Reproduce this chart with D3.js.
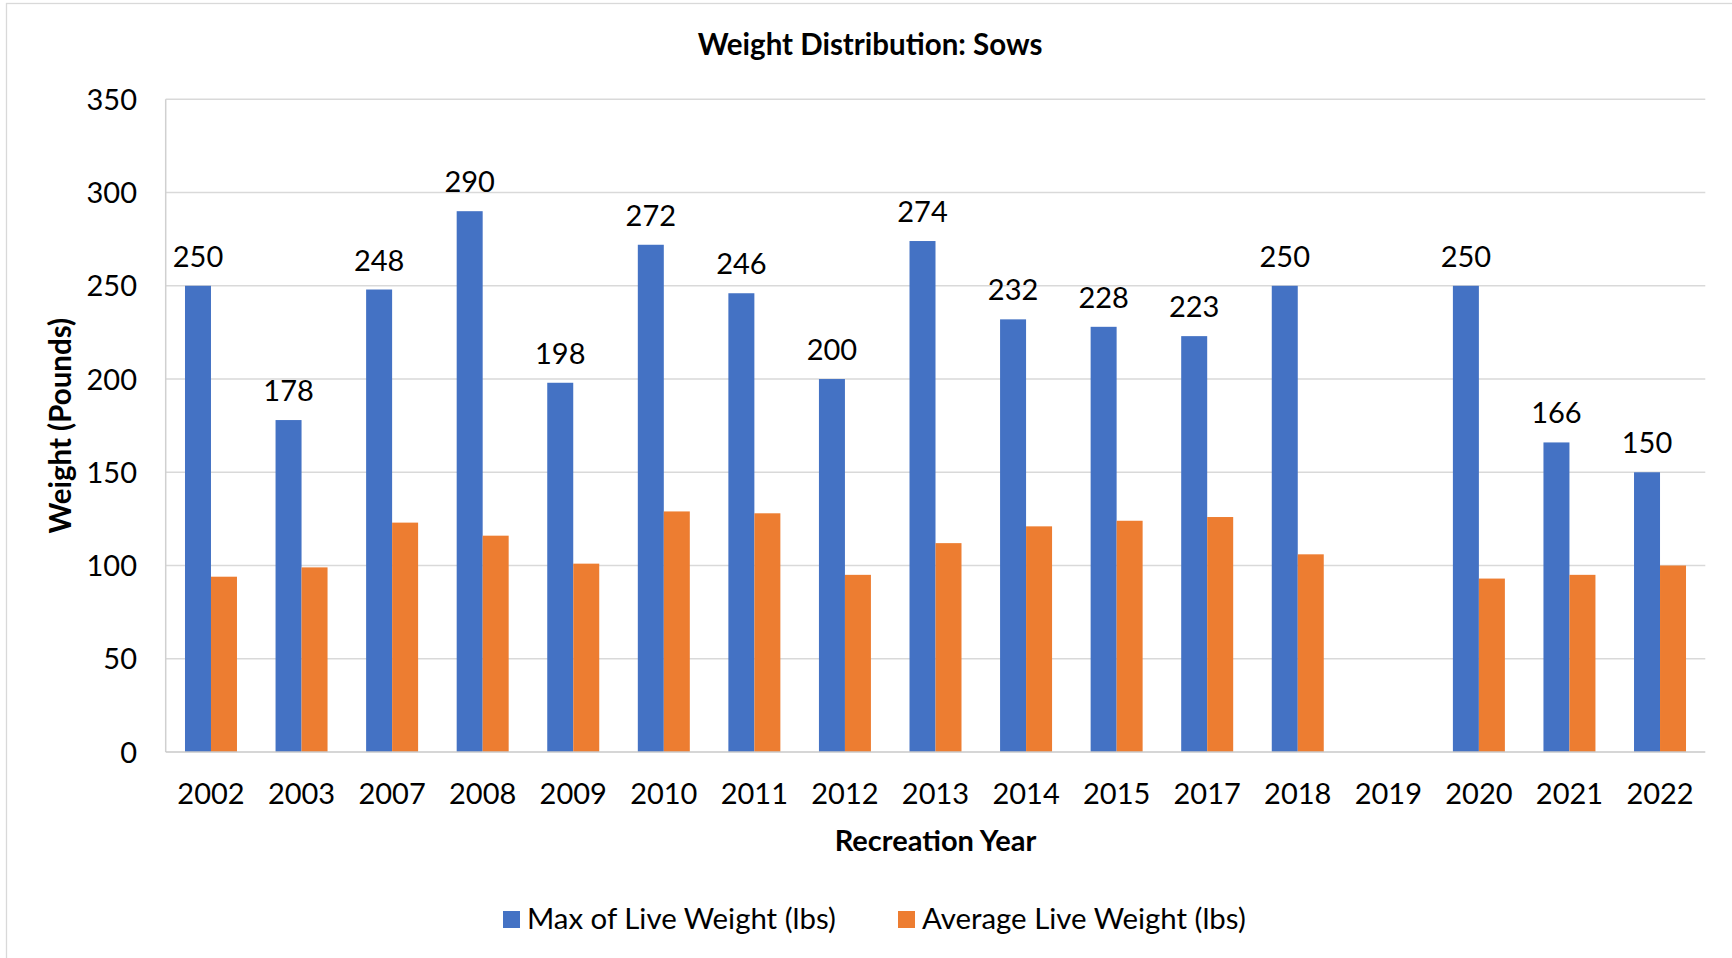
<!DOCTYPE html>
<html>
<head>
<meta charset="utf-8">
<script src="https://cdn.jsdelivr.net/npm/d3@7"></script>
<style>
  html, body { margin: 0; padding: 0; background: #fff; }
  svg { display: block; }
  text { font-family: Lato, "Open Sans", sans-serif; fill: #000; }
</style>
</head>
<body>
<svg id="chart" width="1732" height="958"></svg>
<script>
const categories = ["2002","2003","2007","2008","2009","2010","2011","2012","2013","2014","2015","2017","2018","2019","2020","2021","2022"];
const maxWeight = [250,178,248,290,198,272,246,200,274,232,228,223,250,null,250,166,150];
const avgWeight = [94,99,123,116,101,129,128,95,112,121,124,126,106,null,93,95,100];
const seriesNames = ["Max of Live Weight (lbs)", "Average Live Weight (lbs)"];
const seriesColors = ["#4472C4", "#ED7D31"];
const yTicks = [0,50,100,150,200,250,300,350];
const chartTitle = "Weight Distribution: Sows";
const xTitle = "Recreation Year";
const yTitle = "Weight (Pounds)";

const svg = d3.select("#chart");
const W = 1732, H = 958;
const plot = { left: 165.7, right: 1705.3, top: 99.3, bottom: 752 };

// chart border
svg.append("rect").attr("x", 6.5).attr("y", 3.5).attr("width", W + 20).attr("height", H + 20)
  .attr("fill", "#fff").attr("stroke", "#d9d9d9").attr("stroke-width", 1.3);

const x0 = d3.scaleBand().domain(categories).range([plot.left, plot.right]).paddingInner(0).paddingOuter(0);
const x1 = d3.scaleBand().domain([0, 1]).range([0, x0.bandwidth()]).paddingInner(0).paddingOuter(0.742);
const y = d3.scaleLinear().domain([0, 350]).range([plot.bottom, plot.top]);

// gridlines
svg.append("g").selectAll("line").data(yTicks.filter(d => d > 0)).join("line")
  .attr("x1", plot.left).attr("x2", plot.right)
  .attr("y1", d => y(d)).attr("y2", d => y(d))
  .attr("stroke", "#d9d9d9").attr("stroke-width", 1.5);

// y axis tick labels via d3 axis
const yAxis = d3.axisLeft(y).tickValues(yTicks).tickSize(0).tickPadding(0);
const yG = svg.append("g").attr("transform", `translate(${137},0)`).call(yAxis);
yG.select(".domain").remove();
yG.selectAll("text").attr("font-family", "Lato").attr("font-size", 29).attr("fill", "#000").attr("dy", "0.35em");

// left axis line
svg.append("line").attr("x1", plot.left).attr("x2", plot.left).attr("y1", plot.top).attr("y2", plot.bottom)
  .attr("stroke", "#d0d0d0").attr("stroke-width", 1.5);

// bars
const rows = categories.map((c, i) => ({ cat: c, vals: [maxWeight[i], avgWeight[i]] }));
const groups = svg.append("g").selectAll("g").data(rows).join("g")
  .attr("transform", d => `translate(${x0(d.cat)},0)`);
groups.selectAll("rect").data(d => d.vals.map((v, k) => ({ v, k })).filter(e => e.v != null)).join("rect")
  .attr("x", e => x1(e.k)).attr("width", x1.bandwidth())
  .attr("y", e => y(e.v)).attr("height", e => y(0) - y(e.v))
  .attr("fill", e => seriesColors[e.k]);

// data labels on max series
groups.filter(d => d.vals[0] != null).append("text")
  .attr("x", x1(0) + x1.bandwidth() / 2)
  .attr("y", d => y(d.vals[0]) - 19)
  .attr("text-anchor", "middle").attr("font-size", 29)
  .text(d => d.vals[0]);

// x axis baseline
svg.append("line").attr("x1", plot.left).attr("x2", plot.right).attr("y1", plot.bottom).attr("y2", plot.bottom)
  .attr("stroke", "#c8c8c8").attr("stroke-width", 1.6);

// x axis labels via d3 axis
const xAxis = d3.axisBottom(x0).tickSize(0).tickPadding(0);
const xG = svg.append("g").attr("transform", `translate(0,${804})`).call(xAxis);
xG.select(".domain").remove();
xG.selectAll("text").attr("font-family", "Lato").attr("font-size", 29).attr("fill", "#000").attr("dy", 0).attr("y", 0);

// titles
svg.append("text").attr("x", 870).attr("y", 54.5).attr("text-anchor", "middle")
  .attr("font-size", 29.5).attr("font-weight", "bold").text(chartTitle);
svg.append("text").attr("x", (plot.left + plot.right) / 2).attr("y", 851).attr("text-anchor", "middle")
  .attr("font-size", 29).attr("font-weight", "bold").text(xTitle);
svg.append("text").attr("transform", `translate(71,${(plot.top + plot.bottom) / 2}) rotate(-90)`)
  .attr("text-anchor", "middle").attr("font-size", 29.5).attr("font-weight", "bold").text(yTitle);

// legend
const legendX = [503, 898];
const lg = svg.append("g").selectAll("g").data(seriesNames).join("g")
  .attr("transform", (d, i) => `translate(${legendX[i]},911)`);
lg.append("rect").attr("width", 17).attr("height", 17).attr("fill", (d, i) => seriesColors[i]);
lg.append("text").attr("x", 24).attr("y", 18).attr("font-size", 29.4).text(d => d);
</script>
</body>
</html>
